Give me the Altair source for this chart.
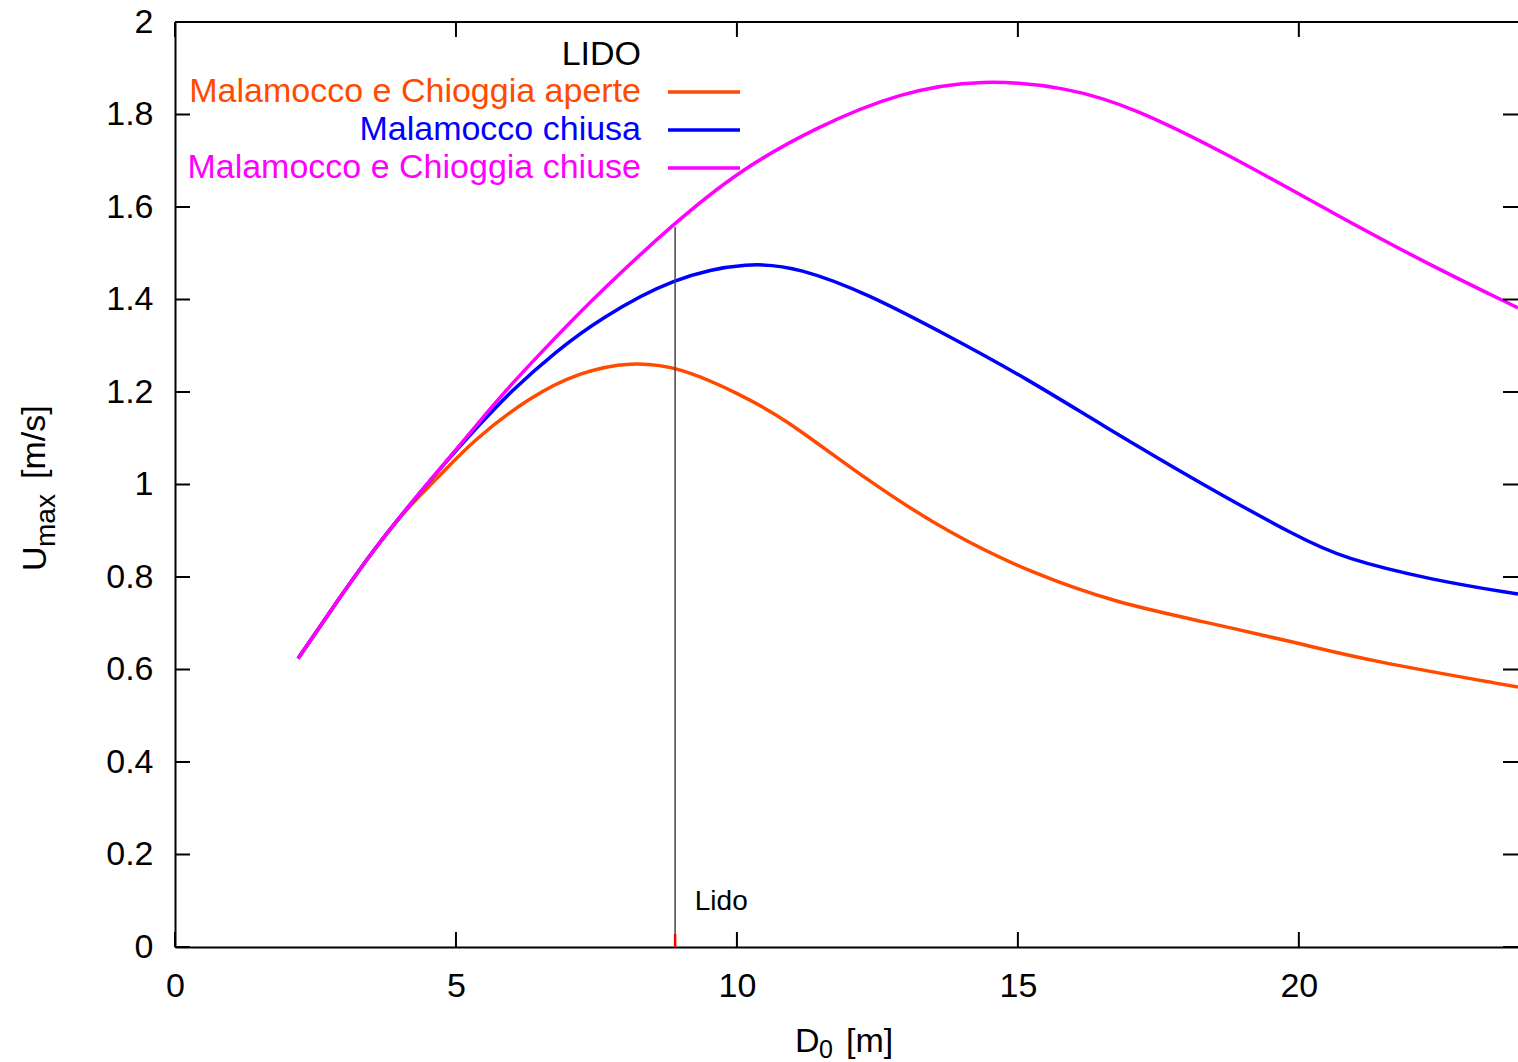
import altair as alt
import pandas as pd

# ---- data ----
x_aperte = [2.19, 2.94, 3.53, 4.12, 4.72, 5.31, 6.32, 7.2, 8.1, 8.99, 10.0, 10.82, 12.3, 13.79, 15.27, 16.76, 18.24, 20.0, 21.2, 23.9]
y_aperte = [0.624, 0.757, 0.858, 0.948, 1.02, 1.096, 1.19, 1.243, 1.266, 1.254, 1.198, 1.146, 1.010, 0.893, 0.807, 0.744, 0.705, 0.657, 0.620, 0.562]

x_chiusa = [2.19, 2.94, 3.53, 4.12, 4.72, 5.31, 5.96, 6.8, 7.56, 8.86, 10.23, 11.12, 12.3, 13.8, 15.2, 16.46, 18.24, 20.02, 20.78, 22.38, 23.9]
y_chiusa = [0.624, 0.757, 0.858, 0.948, 1.035, 1.115, 1.20, 1.29, 1.358, 1.448, 1.482, 1.468, 1.414, 1.319, 1.226, 1.131, 1.003, 0.884, 0.841, 0.793, 0.763]

x_chiuse = [2.19, 2.94, 3.53, 4.12, 4.72, 5.31, 5.84, 6.8, 7.56, 8.86, 10.05, 11.4, 12.9, 14.38, 15.87, 17.05, 18.83, 20.6, 22.4, 23.9]
y_chiuse = [0.624, 0.757, 0.858, 0.948, 1.035, 1.12, 1.198, 1.322, 1.416, 1.563, 1.68, 1.772, 1.849, 1.877, 1.859, 1.816, 1.708, 1.587, 1.470, 1.382]

series_names = ["Malamocco e Chioggia aperte", "Malamocco chiusa", "Malamocco e Chioggia chiuse"]
series_colors = ["#FF4A00", "#0000FF", "#FF00FF"]
legend_title = "LIDO"

x_ticks = [0, 5, 10, 15, 20]
y_ticks = [0, 0.2, 0.4, 0.6, 0.8, 1.0, 1.2, 1.4, 1.6, 1.8, 2.0]

lido_x = [8.9]
lido_top = [1.557]
lido_label = "Lido"
lido_label_pos = [9.25, 0.097]

FONT = "Liberation Sans"
W, H = 1343, 925

xscale = alt.Scale(domain=[0, 23.9], nice=False, zero=False)
yscale = alt.Scale(domain=[0, 2], nice=False)
xaxis = alt.Axis(values=x_ticks, ticks=False, grid=False, labelFontSize=34, labelFont=FONT,
                 labelColor="black", labelPadding=22, labelFlush=False, domainColor="black",
                 domainWidth=2, title=None, format="~g")
yaxis = alt.Axis(values=y_ticks, ticks=False, grid=False, labelFontSize=34, labelFont=FONT,
                 labelColor="black", labelPadding=22, labelFlush=False, domainColor="black",
                 domainWidth=2, title=None, format="~g")


def X(field):
    return alt.X(field, type="quantitative", scale=xscale, axis=xaxis)


def Y(field):
    return alt.Y(field, type="quantitative", scale=yscale, axis=yaxis)


dummy = alt.Data(values=[{}])
layers = []

# curves
for xs, ys, col in [(x_aperte, y_aperte, series_colors[0]),
                    (x_chiusa, y_chiusa, series_colors[1]),
                    (x_chiuse, y_chiuse, series_colors[2])]:
    df = pd.DataFrame({"x": xs, "y": ys})
    layers.append(
        alt.Chart(df).mark_line(color=col, strokeWidth=3.5, interpolate="basis", clip=True)
        .encode(x=X("x"), y=Y("y"))
    )

# Lido vertical line and red marker
lido_df = pd.DataFrame({"x": lido_x, "y0": [0.0], "y1": lido_top, "r1": [0.028]})
layers.append(alt.Chart(lido_df).mark_rule(color="#444444", strokeWidth=1.5)
              .encode(x=X("x"), y=Y("y0"), y2="y1"))
layers.append(alt.Chart(lido_df).mark_rule(color="#FF0000", strokeWidth=2.5)
              .encode(x=X("x"), y=Y("y0"), y2="r1"))
lbl_df = pd.DataFrame({"x": [lido_label_pos[0]], "y": [lido_label_pos[1]], "t": [lido_label]})
layers.append(alt.Chart(lbl_df).mark_text(align="left", baseline="middle", font=FONT, fontSize=28, color="black")
              .encode(x=X("x"), y=Y("y"), text="t"))

# inward ticks
xt = pd.DataFrame({"x": x_ticks})
yt = pd.DataFrame({"y": y_ticks})
layers.append(alt.Chart(xt).mark_rule(color="black", strokeWidth=2)
              .encode(x=X("x"), y=alt.value(H), y2=alt.value(H - 15)))
layers.append(alt.Chart(xt).mark_rule(color="black", strokeWidth=2)
              .encode(x=X("x"), y=alt.value(0), y2=alt.value(15)))
layers.append(alt.Chart(yt).mark_rule(color="black", strokeWidth=2)
              .encode(y=Y("y"), x=alt.value(0), x2=alt.value(15)))
layers.append(alt.Chart(yt).mark_rule(color="black", strokeWidth=2)
              .encode(y=Y("y"), x=alt.value(W - 15), x2=alt.value(W)))

# top border
layers.append(alt.Chart(dummy).mark_rule(color="black", strokeWidth=2)
              .encode(x=alt.value(0), x2=alt.value(W), y=alt.value(0)))

# legend
layers.append(alt.Chart(dummy).mark_text(align="right", baseline="middle", font=FONT, fontSize=34, color="black")
              .encode(x=alt.value(466), y=alt.value(33), text=alt.value(legend_title)))
for i, (name, col) in enumerate(zip(series_names, series_colors)):
    yy = 70 + 38 * i
    layers.append(alt.Chart(dummy).mark_text(align="right", baseline="middle", font=FONT, fontSize=34, color=col)
                  .encode(x=alt.value(466), y=alt.value(yy), text=alt.value(name)))
    layers.append(alt.Chart(dummy).mark_rule(color=col, strokeWidth=3.5)
                  .encode(x=alt.value(493), x2=alt.value(565), y=alt.value(yy)))

# axis titles (with subscripts)
layers.append(alt.Chart(dummy).mark_text(align="left", baseline="alphabetic", font=FONT, fontSize=34, color="black")
              .encode(x=alt.value(797 - 175 - 2), y=alt.value(1052 - 22), text=alt.value("D")))
layers.append(alt.Chart(dummy).mark_text(align="left", baseline="alphabetic", font=FONT, fontSize=25, color="black")
              .encode(x=alt.value(819 - 175), y=alt.value(1058 - 22), text=alt.value("0")))
layers.append(alt.Chart(dummy).mark_text(align="left", baseline="alphabetic", font=FONT, fontSize=34, color="black")
              .encode(x=alt.value(846 - 175), y=alt.value(1052 - 22), text=alt.value("[m]")))

layers.append(alt.Chart(dummy).mark_text(align="left", baseline="alphabetic", angle=270, font=FONT, fontSize=34, color="black")
              .encode(x=alt.value(46 - 175), y=alt.value(571 - 22), text=alt.value("U")))
layers.append(alt.Chart(dummy).mark_text(align="left", baseline="alphabetic", angle=270, font=FONT, fontSize=28, color="black")
              .encode(x=alt.value(55 - 175), y=alt.value(547 - 22), text=alt.value("max")))
layers.append(alt.Chart(dummy).mark_text(align="left", baseline="alphabetic", angle=270, font=FONT, fontSize=34, color="black")
              .encode(x=alt.value(45 - 175), y=alt.value(479 - 22), text=alt.value("[m/s]")))

chart = alt.layer(*layers).properties(
    width=W, height=H,
    padding={"left": 175, "top": 22, "right": 0, "bottom": 115},
    autosize=alt.AutoSizeParams(type="none"),
    background="white",
).configure_view(stroke=None)

chart.save("out.html", embed_options={"renderer": "svg", "actions": False})
